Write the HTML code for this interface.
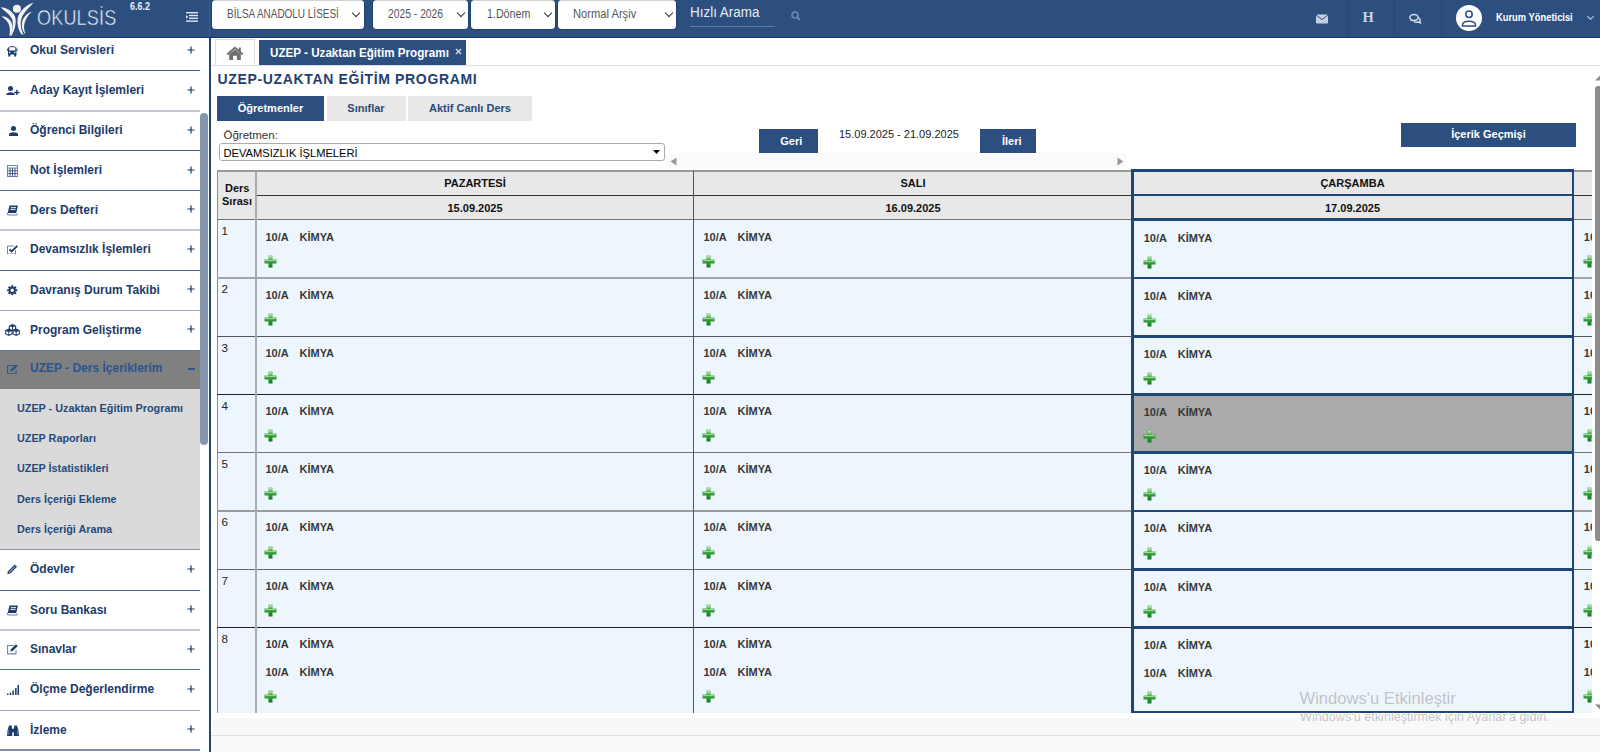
<!DOCTYPE html>
<html><head><meta charset="utf-8"><style>
*{box-sizing:border-box;margin:0;padding:0}
html,body{width:1600px;height:752px;overflow:hidden;background:#fff;font-family:"Liberation Sans",sans-serif}
.a{position:absolute}
.t{position:absolute;white-space:nowrap;line-height:1}
#hdr{position:absolute;left:0;top:0;width:1600px;height:38px;background:#2c4f80;border-bottom:1px solid #173a6c}
.sel{position:absolute;top:0;height:28.6px;background:#fff;border-radius:3.5px;color:#555;font-size:12px;border-top:1px solid #d4d4d4;box-shadow:0 0 0 0.8px #1b4074}
.sel .t{top:7.3px;transform:scaleX(0.84);transform-origin:0 0}
.chev{position:absolute;top:9px;width:6px;height:6px;border-right:1.6px solid #333;border-bottom:1.6px solid #333;transform:rotate(45deg)}
.vsep{position:absolute;top:0;width:1px;height:37px;background:#27466f}
.it{position:absolute;left:0;width:200px;height:40px}
.lb{position:absolute;left:30px;font-size:12px;font-weight:bold;color:#1d3b6b;white-space:nowrap;line-height:1}
.pl{position:absolute;left:187px;width:8px;height:8px}
.ic{position:absolute;left:5px;width:15px;height:14px}
.sepl{position:absolute;left:0;width:200px;height:1px}
.sub{position:absolute;left:17px;font-size:10.8px;font-weight:bold;color:#244a7c;white-space:nowrap;line-height:1}
.btn{position:absolute;background:#2c4f80;color:#fff;font-weight:bold;font-size:11px;text-align:center;line-height:1}
.tab2{position:absolute;top:96px;height:24.5px;background:#e8e8e8;color:#2b4a78;font-weight:bold;font-size:11px;text-align:center;line-height:24px}
.hcell{position:absolute;background:#e8e8e8;font-weight:bold;font-size:11px;color:#111;text-align:center;line-height:1}
.cell{position:absolute;background:#eef6fd}
.c1{position:absolute;font-size:11px;font-weight:bold;color:#383838;white-space:nowrap;line-height:1}
.num{position:absolute;font-size:11.6px;color:#222;line-height:1}
.plus{position:absolute;width:13px;height:13px}
.hl{position:absolute;background:#1f4679}
.hb{position:absolute}
</style></head><body>
<div id="hdr">
  <svg class="a" style="left:0;top:0" width="36" height="37" viewBox="0 0 36 37">
    <circle cx="16.9" cy="8.8" r="4" fill="#f4f4f6"/>
    <path d="M0.5 7.2 C5 7.3 12 10 14.8 16 C16.5 20 16 28 11.5 35.8 L10.3 35.8 C13 29 13.5 22 11.8 18.5 C9.5 14 5 11.5 0.5 7.2Z" fill="#f4f4f6"/>
    <path d="M1.5 16.2 C6 16 10.5 19 12 24 C13 28 12 32 10.2 35.8 L9.4 35.8 C10.3 31 10 27 8.5 23.5 C7 20.5 4.5 18.5 1.5 16.2Z" fill="#f4f4f6"/>
    <path d="M33.6 2.4 C27 4.5 20 10 18 17 C16.8 22 17.5 29 21.8 34.6 L23.5 34.6 C20.8 29.5 20 23 21.5 18.5 C23.5 12 29 8 33.6 2.4Z" fill="#f4f4f6"/>
    <path d="M31.8 11.8 C27 13 23 17.5 22 22.5 C21.3 26.5 22.5 31 24.6 33.6 L25.4 33.6 C23.8 29.5 23.6 25.5 25 21.5 C26.5 17.5 29 14.5 31.8 11.8Z" fill="#f4f4f6"/>
  </svg>
  <div class="t" style="left:37px;top:7px;font-size:22px;color:#eef0f4;transform:scaleX(0.82);transform-origin:0 0;letter-spacing:0.2px;-webkit-text-stroke:0.5px #2c4f80">OKULSİS</div>
  <div class="t" style="left:129.5px;top:1.5px;font-size:10px;font-weight:bold;color:#e8eef6;transform:scaleX(0.9);transform-origin:0 0">6.6.2</div>
  <svg class="a" style="left:186px;top:12px" width="12" height="10" viewBox="0 0 12 10">
    <rect x="0" y="0" width="12" height="1.4" fill="#dfe6f0"/><rect x="3" y="2.8" width="9" height="1.4" fill="#dfe6f0"/>
    <rect x="3" y="5.6" width="9" height="1.4" fill="#dfe6f0"/><rect x="0" y="8.4" width="12" height="1.4" fill="#dfe6f0"/>
    <path d="M0 3 L2.3 4.9 L0 6.8Z" fill="#dfe6f0"/>
  </svg>
  <div class="vsep" style="left:209px;background:#3d5f8c"></div>
  <div class="sel" style="left:212px;width:152px"><div class="t" style="left:14.8px;transform:scaleX(0.83)">BİLSA ANADOLU LİSESİ</div><div class="chev" style="left:141px"></div></div>
  <div class="sel" style="left:373px;width:95px"><div class="t" style="left:15px;transform:scaleX(0.86)">2025 - 2026</div><div class="chev" style="left:85px"></div></div>
  <div class="sel" style="left:471px;width:84px"><div class="t" style="left:15.5px;transform:scaleX(0.89)">1.Dönem</div><div class="chev" style="left:74px"></div></div>
  <div class="sel" style="left:558px;width:118px"><div class="t" style="left:15px;transform:scaleX(0.93)">Normal Arşiv</div><div class="chev" style="left:108px"></div></div>
  <div class="t" style="left:690px;top:5px;font-size:14px;color:#e6ebf2;transform:scaleX(0.96);transform-origin:0 0">Hızlı Arama</div>
  <div class="a" style="left:690px;top:26px;width:85px;height:1px;background:#5b7aa5"></div>
  <svg class="a" style="left:791px;top:11px" width="10" height="10" viewBox="0 0 10 10"><circle cx="4" cy="4" r="3" stroke="#6d89b0" stroke-width="1.6" fill="none"/><path d="M6.2 6.2 L9 9" stroke="#6d89b0" stroke-width="2"/></svg>
  <div class="vsep" style="left:1347px"></div>
  <div class="vsep" style="left:1394px"></div>
  <div class="vsep" style="left:1441px"></div>
  <svg class="a" style="left:1315.5px;top:14px" width="12" height="10" viewBox="0 0 12 10"><rect x="0" y="0.5" width="12" height="9" rx="1" fill="#c3cfdf"/><path d="M0 1 L6 5.5 L12 1" stroke="#2c4f80" stroke-width="1" fill="none"/></svg>
  <div class="t" style="left:1362.5px;top:9.5px;font-family:'Liberation Serif',serif;font-weight:bold;font-size:14.5px;color:#c8d3e2">H</div>
  <svg class="a" style="left:1408px;top:13px" width="14" height="11" viewBox="0 0 14 11"><ellipse cx="6" cy="4.4" rx="4.1" ry="3" fill="none" stroke="#d3dcea" stroke-width="1.5"/><path d="M2.9 6.6 L2.3 8.6 L4.8 7.4" fill="#d3dcea"/><path d="M9.8 4.6 C12 5.2 12.8 6.8 11.8 8.2 L12.4 9.8 L10.2 9 C8.6 9.5 6.8 9.1 5.8 8.2" fill="none" stroke="#d3dcea" stroke-width="1.4"/></svg>
  <svg class="a" style="left:1456px;top:5px" width="26" height="26" viewBox="0 0 26 26"><circle cx="13" cy="13" r="13" fill="#fff"/><circle cx="13" cy="9.3" r="3.2" fill="none" stroke="#2c4f80" stroke-width="1.5"/><path d="M6.5 20 C6.5 15 19.5 15 19.5 20 L19.5 21 L6.5 21Z" fill="none" stroke="#2c4f80" stroke-width="1.5"/></svg>
  <div class="t" style="left:1496px;top:12px;font-size:11px;font-weight:bold;color:#fff;transform:scaleX(0.85);transform-origin:0 0;letter-spacing:0px">Kurum Yöneticisi</div>
  <div class="chev" style="left:1588px;top:14px;width:5px;height:5px;border-color:#c3cfdf;border-width:1.3px"></div>
</div>
<div class="a" style="left:0;top:38px;width:209px;height:714px;background:#fff"></div>
<div class="a" style="left:7px;top:45.0px;width:10.5px;height:11.5px;line-height:0"><svg width="10.5" height="11.5" viewBox="0 0 10.5 11.5"><path d="M1 3 C1 0.5 9.5 0.5 9.5 3 V9.5 H1Z" fill="#1d3b6b"/><rect x="2.2" y="2.2" width="6.1" height="3.3" fill="#fff"/><rect x="2" y="6.8" width="1.4" height="1.2" fill="#fff"/><rect x="7.1" y="6.8" width="1.4" height="1.2" fill="#fff"/><rect x="1.3" y="9" width="2" height="2.5" fill="#1d3b6b"/><rect x="7.2" y="9" width="2" height="2.5" fill="#1d3b6b"/><rect x="0" y="3.5" width="0.8" height="2.5" fill="#1d3b6b"/><rect x="9.7" y="3.5" width="0.8" height="2.5" fill="#1d3b6b"/></svg></div>
<div class="lb" style="top:44.0px">Okul Servisleri</div>
<svg class="pl" style="top:45.5px" viewBox="0 0 8 8"><path d="M4 0.5V7.5M0.5 4H7.5" stroke="#13306a" stroke-width="1.15"/></svg>
<div class="a" style="left:6px;top:85.5px;width:13.5px;height:9.5px;line-height:0"><svg width="13.5" height="9.5" viewBox="0 0 13.5 9.5"><circle cx="4.5" cy="2.6" r="2.5" fill="#1d3b6b"/><path d="M0 9.5 C0 5 9 5 9 9.5Z" fill="#1d3b6b"/><rect x="8.2" y="5.8" width="5.3" height="1.4" fill="#1d3b6b"/><rect x="10.15" y="3.8" width="1.4" height="5.4" fill="#1d3b6b"/></svg></div>
<div class="lb" style="top:84.0px">Aday Kayıt İşlemleri</div>
<svg class="pl" style="top:85.5px" viewBox="0 0 8 8"><path d="M4 0.5V7.5M0.5 4H7.5" stroke="#13306a" stroke-width="1.15"/></svg>
<div class="a" style="left:8.5px;top:125.8px;width:9px;height:10px;line-height:0"><svg width="9" height="10" viewBox="0 0 9 10"><circle cx="4.5" cy="2.6" r="2.5" fill="#1d3b6b"/><path d="M0 10 V8.3 C0 5.5 9 5.5 9 8.3 V10Z" fill="#1d3b6b"/></svg></div>
<div class="lb" style="top:124.3px">Öğrenci Bilgileri</div>
<svg class="pl" style="top:125.8px" viewBox="0 0 8 8"><path d="M4 0.5V7.5M0.5 4H7.5" stroke="#13306a" stroke-width="1.15"/></svg>
<div class="a" style="left:7px;top:164.5px;width:11px;height:12px;line-height:0"><svg width="11" height="12" viewBox="0 0 11 12"><rect x="0.5" y="0.5" width="10" height="11" fill="none" stroke="#6f86a8" stroke-width="1"/><rect x="0.5" y="0.5" width="10" height="2.5" fill="none" stroke="#6f86a8" stroke-width="1"/><path d="M0.5 5.8 H10.5 M0.5 8.6 H10.5 M3 3 V11.5 M5.5 3 V11.5 M8 3 V11.5" stroke="#1d3b6b" stroke-width="0.8"/></svg></div>
<div class="lb" style="top:164.0px">Not İşlemleri</div>
<svg class="pl" style="top:165.5px" viewBox="0 0 8 8"><path d="M4 0.5V7.5M0.5 4H7.5" stroke="#13306a" stroke-width="1.15"/></svg>
<div class="a" style="left:7px;top:205.4px;width:11.5px;height:10.5px;line-height:0"><svg width="11.5" height="10.5" viewBox="0 0 11.5 10.5"><path d="M2.5 0.5 H11 L9.2 8 H0.7Z" fill="#1d3b6b"/><path d="M0.7 8 C0.2 9.5 0.7 10 1.5 10 H9.5 L10.5 8.5" fill="none" stroke="#6f86a8" stroke-width="1.1"/><path d="M3.8 2.6 H9 M3.4 4.4 H8.6" stroke="#fff" stroke-width="0.9"/></svg></div>
<div class="lb" style="top:203.9px">Ders Defteri</div>
<svg class="pl" style="top:205.4px" viewBox="0 0 8 8"><path d="M4 0.5V7.5M0.5 4H7.5" stroke="#13306a" stroke-width="1.15"/></svg>
<div class="a" style="left:7px;top:244.8px;width:11px;height:9.5px;line-height:0"><svg width="11" height="9.5" viewBox="0 0 11 9.5"><path d="M8.5 5 V9 H0.5 V1 H7" fill="none" stroke="#6f86a8" stroke-width="1"/><path d="M2.5 4.3 L4.6 6.4 L10.3 0.8" fill="none" stroke="#1d3b6b" stroke-width="1.8"/></svg></div>
<div class="lb" style="top:243.3px">Devamsızlık İşlemleri</div>
<svg class="pl" style="top:244.8px" viewBox="0 0 8 8"><path d="M4 0.5V7.5M0.5 4H7.5" stroke="#13306a" stroke-width="1.15"/></svg>
<div class="a" style="left:7.3px;top:284.7px;width:10.5px;height:10.5px;line-height:0"><svg width="10.5" height="10.5" viewBox="0 0 14 14"><g fill="#1d3b6b"><circle cx="7" cy="7" r="4.6"/><rect x="5.6" y="0.3" width="2.8" height="13.4"/><rect x="0.3" y="5.6" width="13.4" height="2.8"/><rect x="5.6" y="0.3" width="2.8" height="13.4" transform="rotate(45 7 7)"/><rect x="5.6" y="0.3" width="2.8" height="13.4" transform="rotate(-45 7 7)"/></g><circle cx="7" cy="7" r="2.2" fill="#fff"/></svg></div>
<div class="lb" style="top:283.7px">Davranış Durum Takibi</div>
<svg class="pl" style="top:285.2px" viewBox="0 0 8 8"><path d="M4 0.5V7.5M0.5 4H7.5" stroke="#13306a" stroke-width="1.15"/></svg>
<div class="a" style="left:5px;top:324.4px;width:15px;height:12px;line-height:0"><svg width="15" height="12" viewBox="0 0 16 13"><path d="M8 0 L12 1.8 L12 6.2 L8 8 L4 6.2 L4 1.8Z" fill="#1d3b6b"/><path d="M5.2 2.5 L7.5 3.6 V6.5 L5.2 5.5Z M8.5 3.6 L10.8 2.5 V5.5 L8.5 6.5Z" fill="#fff"/><path d="M4 5 L8 6.8 L8 11.2 L4 13 L0 11.2 L0 6.8Z" fill="#1d3b6b"/><path d="M1.2 7.5 L3.5 8.6 V11.5 L1.2 10.5Z M4.5 8.6 L6.8 7.5 V10.5 L4.5 11.5Z" fill="#fff"/><path d="M12 5 L16 6.8 L16 11.2 L12 13 L8 11.2 L8 6.8Z" fill="#1d3b6b"/><path d="M9.2 7.5 L11.5 8.6 V11.5 L9.2 10.5Z M12.5 8.6 L14.8 7.5 V10.5 L12.5 11.5Z" fill="#fff"/></svg></div>
<div class="lb" style="top:323.9px">Program Geliştirme</div>
<svg class="pl" style="top:325.4px" viewBox="0 0 8 8"><path d="M4 0.5V7.5M0.5 4H7.5" stroke="#13306a" stroke-width="1.15"/></svg>
<div class="sepl" style="top:69.9px;height:1.2px;background:#3f5f8a"></div>
<div class="sepl" style="top:110.2px;height:2px;background:#c3c8d0"></div>
<div class="sepl" style="top:149.9px;height:1.2px;background:#41618b"></div>
<div class="sepl" style="top:189.8px;height:1.2px;background:#4f6c93"></div>
<div class="sepl" style="top:229.2px;height:2px;background:#c3c8d0"></div>
<div class="sepl" style="top:269.6px;height:1.2px;background:#4a6890"></div>
<div class="sepl" style="top:309.8px;height:1.2px;background:#9eabbd"></div>
<div class="a" style="left:0;top:349.8px;width:200px;height:39px;background:#808080;border-top:1px solid #6b7b8e"></div>
<div class="a" style="left:7px;top:363.5px;width:11.5px;height:10.5px;line-height:0"><svg width="11.5" height="10.5" viewBox="0 0 11.5 10.5"><path d="M7 1.5 H0.6 V9.9 H9 V6" fill="none" stroke="#2a5490" stroke-width="1.1"/><path d="M3.5 7.5 L3.9 5.3 L9 0.2 L10.8 2 L5.7 7.1Z" fill="#2a5490"/></svg></div>
<div class="lb" style="top:362px;color:#2a5490">UZEP - Ders İçeriklerim</div>
<div class="a" style="left:188px;top:368px;width:7px;height:1.6px;background:#2a5490"></div>
<div class="a" style="left:0;top:388.6px;width:200px;height:161.5px;background:#dadada;border-bottom:1.5px solid #8a96aa"></div>
<div class="sub" style="top:402.7px">UZEP - Uzaktan Eğitim Programı</div>
<div class="sub" style="top:433.0px">UZEP Raporları</div>
<div class="sub" style="top:463.3px">UZEP İstatistikleri</div>
<div class="sub" style="top:493.5px">Ders İçeriği Ekleme</div>
<div class="sub" style="top:523.8px">Ders İçeriği Arama</div>
<div class="a" style="left:7.3px;top:564.0px;width:10.5px;height:10.5px;line-height:0"><svg width="10.5" height="10.5" viewBox="0 0 10.5 10.5"><path d="M0.3 10.2 L1 7.3 L7.8 0.5 L10 2.7 L3.2 9.5Z" fill="#1d3b6b"/><path d="M1.5 8.3 L7.8 2 L8.5 2.7 L2.2 9Z" fill="#8aa0c0"/></svg></div>
<div class="lb" style="top:563.0px">Ödevler</div>
<svg class="pl" style="top:564.5px" viewBox="0 0 8 8"><path d="M4 0.5V7.5M0.5 4H7.5" stroke="#13306a" stroke-width="1.15"/></svg>
<div class="a" style="left:7px;top:605.3px;width:11.5px;height:10.5px;line-height:0"><svg width="11.5" height="10.5" viewBox="0 0 11.5 10.5"><path d="M2.5 0.5 H11 L9.2 8 H0.7Z" fill="#1d3b6b"/><path d="M0.7 8 C0.2 9.5 0.7 10 1.5 10 H9.5 L10.5 8.5" fill="none" stroke="#6f86a8" stroke-width="1.1"/><path d="M3.8 2.6 H9 M3.4 4.4 H8.6" stroke="#fff" stroke-width="0.9"/></svg></div>
<div class="lb" style="top:603.8px">Soru Bankası</div>
<svg class="pl" style="top:605.3px" viewBox="0 0 8 8"><path d="M4 0.5V7.5M0.5 4H7.5" stroke="#13306a" stroke-width="1.15"/></svg>
<div class="a" style="left:7px;top:644.3px;width:11.5px;height:10.5px;line-height:0"><svg width="11.5" height="10.5" viewBox="0 0 11.5 10.5"><path d="M7 1.5 H0.6 V9.9 H9 V6" fill="none" stroke="#6f86a8" stroke-width="1.1"/><path d="M3.5 7.5 L3.9 5.3 L9 0.2 L10.8 2 L5.7 7.1Z" fill="#1d3b6b"/></svg></div>
<div class="lb" style="top:643.3px">Sınavlar</div>
<svg class="pl" style="top:644.8px" viewBox="0 0 8 8"><path d="M4 0.5V7.5M0.5 4H7.5" stroke="#13306a" stroke-width="1.15"/></svg>
<div class="a" style="left:6.6px;top:684.5px;width:12px;height:10px;line-height:0"><svg width="12" height="10" viewBox="0 0 12 10"><g fill="#1d3b6b"><rect x="0" y="8.5" width="1.5" height="1.5"/><rect x="2.7" y="7.5" width="1.5" height="2.5"/><rect x="5.4" y="5.5" width="1.5" height="4.5"/><rect x="8.1" y="3" width="1.5" height="7"/><rect x="10.5" y="0" width="1.5" height="10"/></g></svg></div>
<div class="lb" style="top:683.0px">Ölçme Değerlendirme</div>
<svg class="pl" style="top:684.5px" viewBox="0 0 8 8"><path d="M4 0.5V7.5M0.5 4H7.5" stroke="#13306a" stroke-width="1.15"/></svg>
<div class="a" style="left:6.6px;top:724.9px;width:12px;height:11.5px;line-height:0"><svg width="12" height="11.5" viewBox="0 0 12 11.5"><g fill="#1d3b6b"><path d="M0 11.5 L0.6 5 L2 0.5 H4.5 L5.2 4 V11.5Z"/><path d="M12 11.5 L11.4 5 L10 0.5 H7.5 L6.8 4 V11.5Z"/><rect x="4.8" y="3.8" width="2.4" height="3.5"/></g><path d="M1.5 5 V10 M10.5 5 V10" stroke="#5a78a8" stroke-width="0.9"/></svg></div>
<div class="lb" style="top:723.9px">İzleme</div>
<svg class="pl" style="top:725.4px" viewBox="0 0 8 8"><path d="M4 0.5V7.5M0.5 4H7.5" stroke="#13306a" stroke-width="1.15"/></svg>
<div class="sepl" style="top:589.7px;height:1.2px;background:#4a6890"></div>
<div class="sepl" style="top:629.2px;height:2px;background:#c3c8d0"></div>
<div class="sepl" style="top:668.9px;height:1.2px;background:#4f6c93"></div>
<div class="sepl" style="top:709.8px;height:1.2px;background:#9eabbd"></div>
<div class="sepl" style="top:749.4px;height:1.2px;background:#8090a8"></div>
<div class="a" style="left:200px;top:113px;width:8.3px;height:332px;background:#8496ad;border-radius:4px"></div>
<div class="a" style="left:208.5px;top:38px;width:2.5px;height:714px;background:#1f4679"></div>
<div class="a" style="left:215px;top:39.2px;width:39.5px;height:26px;border:1px solid #ddd;border-bottom:none;background:#fff"></div>
<svg class="a" style="left:225.8px;top:45.6px" width="18" height="14.5" viewBox="0 0 17 14" preserveAspectRatio="none"><path d="M8.5 0.5 L0.5 7.5 L2 8.6 L8.5 3 L15 8.6 L16.5 7.5Z" fill="#6e6e6e"/><path d="M3 8 L8.5 3.3 L14 8 V13.5 H10.3 V9.5 H6.7 V13.5 H3Z" fill="#6e6e6e"/><rect x="12" y="1.5" width="2" height="4" fill="#6e6e6e"/></svg>
<div class="a" style="left:259px;top:40px;width:207px;height:24.5px;background:#2c4f80"></div>
<div class="t" style="left:270px;top:46px;font-size:13px;font-weight:bold;color:#fff;transform:scaleX(0.895);transform-origin:0 0">UZEP - Uzaktan Eğitim Programı</div>
<svg class="a" style="left:455px;top:48px" width="7" height="7" viewBox="0 0 7 7"><path d="M1 1L6 6M6 1L1 6" stroke="#c8d2e0" stroke-width="1.6"/></svg>
<div class="a" style="left:211px;top:65px;width:1389px;height:1px;background:#ddd"></div>
<div class="t" style="left:217.5px;top:72px;font-size:14px;font-weight:bold;color:#1f3f73;letter-spacing:0.65px">UZEP-UZAKTAN EĞİTİM PROGRAMI</div>
<div class="tab2" style="left:217px;width:107px;background:#2c4f80;color:#fff">Öğretmenler</div>
<div class="tab2" style="left:326.5px;width:79px">Sınıflar</div>
<div class="tab2" style="left:408px;width:124px">Aktif Canlı Ders</div>
<div class="t" style="left:223.5px;top:129.5px;font-size:11.5px;color:#333">Öğretmen:</div>
<div class="a" style="left:219px;top:143.2px;width:445.5px;height:18.3px;border:1px solid #aaa;border-radius:3px;background:#fff"></div>
<div class="t" style="left:223.5px;top:147.6px;font-size:11.15px;color:#000">DEVAMSIZLIK İŞLMELERİ</div>
<svg class="a" style="left:653px;top:150px" width="7" height="4" viewBox="0 0 7 4"><path d="M0 0H7L3.5 4Z" fill="#000"/></svg>
<div class="a" style="left:665px;top:153px;width:462px;height:15px;background:#fbfbfb"></div>
<svg class="a" style="left:670px;top:156.5px" width="7" height="9" viewBox="0 0 7 9"><path d="M6.5 0.5V8.5L0.5 4.5Z" fill="#999"/></svg>
<svg class="a" style="left:1117px;top:156.5px" width="7" height="9" viewBox="0 0 7 9"><path d="M0.5 0.5V8.5L6.5 4.5Z" fill="#999"/></svg>
<div class="btn" style="left:759px;top:128.5px;width:59px;height:24.5px;padding-top:7px;padding-left:5.5px">Geri</div>
<div class="t" style="left:839px;top:129px;font-size:11px;color:#222">15.09.2025 - 21.09.2025</div>
<div class="btn" style="left:980px;top:128.5px;width:56px;height:24.5px;padding-top:7px;padding-left:7.5px">İleri</div>
<div class="btn" style="left:1401px;top:122.5px;width:175px;height:24.5px;padding-top:6.5px">İçerik Geçmişi</div>
<div class="hcell" style="left:217px;top:171px;width:375px;height:49px;width:1375px"></div>
<div class="cell" style="left:217px;top:220px;width:1375px;height:492.6px"></div>
<div class="a" style="left:216.5px;top:170.3px;width:1375.5px;height:1.3px;background:#9a9a9a"></div>
<div class="a" style="left:216.5px;top:170.5px;width:1.2px;height:542.1px;background:#8c8c8c"></div>
<div class="a" style="left:256px;top:194.6px;width:1336px;height:1.3px;background:#333"></div>
<div class="a" style="left:217px;top:218.8px;width:1375px;height:1.3px;background:#707070"></div>
<div class="a" style="left:217px;top:277.2px;width:1375px;height:1.6px;background:#a2a6aa"></div>
<div class="a" style="left:217px;top:335.6px;width:1375px;height:1.6px;background:#555"></div>
<div class="a" style="left:217px;top:393.6px;width:1375px;height:1.6px;background:#222"></div>
<div class="a" style="left:217px;top:451.7px;width:1375px;height:1.6px;background:#777"></div>
<div class="a" style="left:217px;top:510.1px;width:1375px;height:1.6px;background:#9c9c9c"></div>
<div class="a" style="left:217px;top:568.6px;width:1375px;height:1.6px;background:#666"></div>
<div class="a" style="left:217px;top:626.6px;width:1375px;height:1.6px;background:#222"></div>
<div class="a" style="left:255px;top:171px;width:1.8px;height:541.6px;background:#a9adb3"></div>
<div class="a" style="left:693.2px;top:171px;width:1.1px;height:541.6px;background:#555"></div>
<div class="t" style="left:225px;top:183px;font-size:11px;font-weight:bold;color:#111">Ders</div>
<div class="t" style="left:222px;top:196px;font-size:11px;font-weight:bold;color:#111">Sırası</div>
<div class="hb" style="left:256px;top:178px;width:438px;text-align:center;font-size:11px;font-weight:bold;color:#111;line-height:1">PAZARTESİ</div>
<div class="hb" style="left:256px;top:202.5px;width:438px;text-align:center;font-size:11px;font-weight:bold;color:#111;line-height:1">15.09.2025</div>
<div class="hb" style="left:694px;top:178px;width:438px;text-align:center;font-size:11px;font-weight:bold;color:#111;line-height:1">SALI</div>
<div class="hb" style="left:694px;top:202.5px;width:438px;text-align:center;font-size:11px;font-weight:bold;color:#111;line-height:1">16.09.2025</div>
<div class="hb" style="left:1132px;top:178px;width:441px;text-align:center;font-size:11px;font-weight:bold;color:#111;line-height:1">ÇARŞAMBA</div>
<div class="hb" style="left:1132px;top:202.5px;width:441px;text-align:center;font-size:11px;font-weight:bold;color:#111;line-height:1">17.09.2025</div>
<svg width="0" height="0" style="position:absolute"><defs><linearGradient id="pg" x1="0" y1="0" x2="0" y2="1"><stop offset="0" stop-color="#6cc06a"/><stop offset="0.45" stop-color="#3aa33c"/><stop offset="1" stop-color="#0c7a1c"/></linearGradient><linearGradient id="ph" x1="0" y1="0" x2="0" y2="1"><stop offset="0" stop-color="#e2f6d8"/><stop offset="1" stop-color="#8fd08a" stop-opacity="0"/></linearGradient></defs></svg>
<div class="a" style="left:1133px;top:394.4px;width:440px;height:58.1px;background:#aaaaaa"></div>
<div class="num" style="left:221.6px;top:225.2px">1</div>
<div class="c1" style="left:265.5px;top:231.5px">10/A</div>
<div class="c1" style="left:299.5px;top:231.5px">KİMYA</div>
<svg class="plus" style="left:264.3px;top:254.8px" viewBox="0 0 13 13"><path d="M4.5 0.5H8.5V4.5H12.5V8.5H8.5V12.5H4.5V8.5H0.5V4.5H4.5Z" fill="url(#pg)"/><path d="M5.3 1.2H7.7V5H5.3Z" fill="url(#ph)"/><path d="M1.2 5.3H11.8V6.1H1.2Z" fill="#d8f2d0" opacity="0.9"/></svg>
<div class="c1" style="left:703.5px;top:231.5px">10/A</div>
<div class="c1" style="left:737.5px;top:231.5px">KİMYA</div>
<svg class="plus" style="left:702.3px;top:254.8px" viewBox="0 0 13 13"><path d="M4.5 0.5H8.5V4.5H12.5V8.5H8.5V12.5H4.5V8.5H0.5V4.5H4.5Z" fill="url(#pg)"/><path d="M5.3 1.2H7.7V5H5.3Z" fill="url(#ph)"/><path d="M1.2 5.3H11.8V6.1H1.2Z" fill="#d8f2d0" opacity="0.9"/></svg>
<div class="c1" style="left:1143.7px;top:232.5px">10/A</div>
<div class="c1" style="left:1177.7px;top:232.5px">KİMYA</div>
<svg class="plus" style="left:1142.5px;top:255.8px" viewBox="0 0 13 13"><path d="M4.5 0.5H8.5V4.5H12.5V8.5H8.5V12.5H4.5V8.5H0.5V4.5H4.5Z" fill="url(#pg)"/><path d="M5.3 1.2H7.7V5H5.3Z" fill="url(#ph)"/><path d="M1.2 5.3H11.8V6.1H1.2Z" fill="#d8f2d0" opacity="0.9"/></svg>
<div class="c1" style="left:1583.8px;top:231.5px">10/A</div>
<div class="c1" style="left:1617.8px;top:231.5px">KİMYA</div>
<svg class="plus" style="left:1582.6px;top:254.8px" viewBox="0 0 13 13"><path d="M4.5 0.5H8.5V4.5H12.5V8.5H8.5V12.5H4.5V8.5H0.5V4.5H4.5Z" fill="url(#pg)"/><path d="M5.3 1.2H7.7V5H5.3Z" fill="url(#ph)"/><path d="M1.2 5.3H11.8V6.1H1.2Z" fill="#d8f2d0" opacity="0.9"/></svg>
<div class="num" style="left:221.6px;top:283.2px">2</div>
<div class="c1" style="left:265.5px;top:289.5px">10/A</div>
<div class="c1" style="left:299.5px;top:289.5px">KİMYA</div>
<svg class="plus" style="left:264.3px;top:312.8px" viewBox="0 0 13 13"><path d="M4.5 0.5H8.5V4.5H12.5V8.5H8.5V12.5H4.5V8.5H0.5V4.5H4.5Z" fill="url(#pg)"/><path d="M5.3 1.2H7.7V5H5.3Z" fill="url(#ph)"/><path d="M1.2 5.3H11.8V6.1H1.2Z" fill="#d8f2d0" opacity="0.9"/></svg>
<div class="c1" style="left:703.5px;top:289.5px">10/A</div>
<div class="c1" style="left:737.5px;top:289.5px">KİMYA</div>
<svg class="plus" style="left:702.3px;top:312.8px" viewBox="0 0 13 13"><path d="M4.5 0.5H8.5V4.5H12.5V8.5H8.5V12.5H4.5V8.5H0.5V4.5H4.5Z" fill="url(#pg)"/><path d="M5.3 1.2H7.7V5H5.3Z" fill="url(#ph)"/><path d="M1.2 5.3H11.8V6.1H1.2Z" fill="#d8f2d0" opacity="0.9"/></svg>
<div class="c1" style="left:1143.7px;top:290.5px">10/A</div>
<div class="c1" style="left:1177.7px;top:290.5px">KİMYA</div>
<svg class="plus" style="left:1142.5px;top:313.8px" viewBox="0 0 13 13"><path d="M4.5 0.5H8.5V4.5H12.5V8.5H8.5V12.5H4.5V8.5H0.5V4.5H4.5Z" fill="url(#pg)"/><path d="M5.3 1.2H7.7V5H5.3Z" fill="url(#ph)"/><path d="M1.2 5.3H11.8V6.1H1.2Z" fill="#d8f2d0" opacity="0.9"/></svg>
<div class="c1" style="left:1583.8px;top:289.5px">10/A</div>
<div class="c1" style="left:1617.8px;top:289.5px">KİMYA</div>
<svg class="plus" style="left:1582.6px;top:312.8px" viewBox="0 0 13 13"><path d="M4.5 0.5H8.5V4.5H12.5V8.5H8.5V12.5H4.5V8.5H0.5V4.5H4.5Z" fill="url(#pg)"/><path d="M5.3 1.2H7.7V5H5.3Z" fill="url(#ph)"/><path d="M1.2 5.3H11.8V6.1H1.2Z" fill="#d8f2d0" opacity="0.9"/></svg>
<div class="num" style="left:221.6px;top:341.6px">3</div>
<div class="c1" style="left:265.5px;top:347.9px">10/A</div>
<div class="c1" style="left:299.5px;top:347.9px">KİMYA</div>
<svg class="plus" style="left:264.3px;top:371.2px" viewBox="0 0 13 13"><path d="M4.5 0.5H8.5V4.5H12.5V8.5H8.5V12.5H4.5V8.5H0.5V4.5H4.5Z" fill="url(#pg)"/><path d="M5.3 1.2H7.7V5H5.3Z" fill="url(#ph)"/><path d="M1.2 5.3H11.8V6.1H1.2Z" fill="#d8f2d0" opacity="0.9"/></svg>
<div class="c1" style="left:703.5px;top:347.9px">10/A</div>
<div class="c1" style="left:737.5px;top:347.9px">KİMYA</div>
<svg class="plus" style="left:702.3px;top:371.2px" viewBox="0 0 13 13"><path d="M4.5 0.5H8.5V4.5H12.5V8.5H8.5V12.5H4.5V8.5H0.5V4.5H4.5Z" fill="url(#pg)"/><path d="M5.3 1.2H7.7V5H5.3Z" fill="url(#ph)"/><path d="M1.2 5.3H11.8V6.1H1.2Z" fill="#d8f2d0" opacity="0.9"/></svg>
<div class="c1" style="left:1143.7px;top:348.9px">10/A</div>
<div class="c1" style="left:1177.7px;top:348.9px">KİMYA</div>
<svg class="plus" style="left:1142.5px;top:372.2px" viewBox="0 0 13 13"><path d="M4.5 0.5H8.5V4.5H12.5V8.5H8.5V12.5H4.5V8.5H0.5V4.5H4.5Z" fill="url(#pg)"/><path d="M5.3 1.2H7.7V5H5.3Z" fill="url(#ph)"/><path d="M1.2 5.3H11.8V6.1H1.2Z" fill="#d8f2d0" opacity="0.9"/></svg>
<div class="c1" style="left:1583.8px;top:347.9px">10/A</div>
<div class="c1" style="left:1617.8px;top:347.9px">KİMYA</div>
<svg class="plus" style="left:1582.6px;top:371.2px" viewBox="0 0 13 13"><path d="M4.5 0.5H8.5V4.5H12.5V8.5H8.5V12.5H4.5V8.5H0.5V4.5H4.5Z" fill="url(#pg)"/><path d="M5.3 1.2H7.7V5H5.3Z" fill="url(#ph)"/><path d="M1.2 5.3H11.8V6.1H1.2Z" fill="#d8f2d0" opacity="0.9"/></svg>
<div class="num" style="left:221.6px;top:399.6px">4</div>
<div class="c1" style="left:265.5px;top:405.9px">10/A</div>
<div class="c1" style="left:299.5px;top:405.9px">KİMYA</div>
<svg class="plus" style="left:264.3px;top:429.2px" viewBox="0 0 13 13"><path d="M4.5 0.5H8.5V4.5H12.5V8.5H8.5V12.5H4.5V8.5H0.5V4.5H4.5Z" fill="url(#pg)"/><path d="M5.3 1.2H7.7V5H5.3Z" fill="url(#ph)"/><path d="M1.2 5.3H11.8V6.1H1.2Z" fill="#d8f2d0" opacity="0.9"/></svg>
<div class="c1" style="left:703.5px;top:405.9px">10/A</div>
<div class="c1" style="left:737.5px;top:405.9px">KİMYA</div>
<svg class="plus" style="left:702.3px;top:429.2px" viewBox="0 0 13 13"><path d="M4.5 0.5H8.5V4.5H12.5V8.5H8.5V12.5H4.5V8.5H0.5V4.5H4.5Z" fill="url(#pg)"/><path d="M5.3 1.2H7.7V5H5.3Z" fill="url(#ph)"/><path d="M1.2 5.3H11.8V6.1H1.2Z" fill="#d8f2d0" opacity="0.9"/></svg>
<div class="c1" style="left:1143.7px;top:406.9px">10/A</div>
<div class="c1" style="left:1177.7px;top:406.9px">KİMYA</div>
<svg class="plus" style="left:1142.5px;top:430.2px" viewBox="0 0 13 13"><path d="M4.5 0.5H8.5V4.5H12.5V8.5H8.5V12.5H4.5V8.5H0.5V4.5H4.5Z" fill="url(#pg)"/><path d="M5.3 1.2H7.7V5H5.3Z" fill="url(#ph)"/><path d="M1.2 5.3H11.8V6.1H1.2Z" fill="#d8f2d0" opacity="0.9"/></svg>
<div class="c1" style="left:1583.8px;top:405.9px">10/A</div>
<div class="c1" style="left:1617.8px;top:405.9px">KİMYA</div>
<svg class="plus" style="left:1582.6px;top:429.2px" viewBox="0 0 13 13"><path d="M4.5 0.5H8.5V4.5H12.5V8.5H8.5V12.5H4.5V8.5H0.5V4.5H4.5Z" fill="url(#pg)"/><path d="M5.3 1.2H7.7V5H5.3Z" fill="url(#ph)"/><path d="M1.2 5.3H11.8V6.1H1.2Z" fill="#d8f2d0" opacity="0.9"/></svg>
<div class="num" style="left:221.6px;top:457.7px">5</div>
<div class="c1" style="left:265.5px;top:464.0px">10/A</div>
<div class="c1" style="left:299.5px;top:464.0px">KİMYA</div>
<svg class="plus" style="left:264.3px;top:487.3px" viewBox="0 0 13 13"><path d="M4.5 0.5H8.5V4.5H12.5V8.5H8.5V12.5H4.5V8.5H0.5V4.5H4.5Z" fill="url(#pg)"/><path d="M5.3 1.2H7.7V5H5.3Z" fill="url(#ph)"/><path d="M1.2 5.3H11.8V6.1H1.2Z" fill="#d8f2d0" opacity="0.9"/></svg>
<div class="c1" style="left:703.5px;top:464.0px">10/A</div>
<div class="c1" style="left:737.5px;top:464.0px">KİMYA</div>
<svg class="plus" style="left:702.3px;top:487.3px" viewBox="0 0 13 13"><path d="M4.5 0.5H8.5V4.5H12.5V8.5H8.5V12.5H4.5V8.5H0.5V4.5H4.5Z" fill="url(#pg)"/><path d="M5.3 1.2H7.7V5H5.3Z" fill="url(#ph)"/><path d="M1.2 5.3H11.8V6.1H1.2Z" fill="#d8f2d0" opacity="0.9"/></svg>
<div class="c1" style="left:1143.7px;top:465.0px">10/A</div>
<div class="c1" style="left:1177.7px;top:465.0px">KİMYA</div>
<svg class="plus" style="left:1142.5px;top:488.3px" viewBox="0 0 13 13"><path d="M4.5 0.5H8.5V4.5H12.5V8.5H8.5V12.5H4.5V8.5H0.5V4.5H4.5Z" fill="url(#pg)"/><path d="M5.3 1.2H7.7V5H5.3Z" fill="url(#ph)"/><path d="M1.2 5.3H11.8V6.1H1.2Z" fill="#d8f2d0" opacity="0.9"/></svg>
<div class="c1" style="left:1583.8px;top:464.0px">10/A</div>
<div class="c1" style="left:1617.8px;top:464.0px">KİMYA</div>
<svg class="plus" style="left:1582.6px;top:487.3px" viewBox="0 0 13 13"><path d="M4.5 0.5H8.5V4.5H12.5V8.5H8.5V12.5H4.5V8.5H0.5V4.5H4.5Z" fill="url(#pg)"/><path d="M5.3 1.2H7.7V5H5.3Z" fill="url(#ph)"/><path d="M1.2 5.3H11.8V6.1H1.2Z" fill="#d8f2d0" opacity="0.9"/></svg>
<div class="num" style="left:221.6px;top:516.1px">6</div>
<div class="c1" style="left:265.5px;top:522.4px">10/A</div>
<div class="c1" style="left:299.5px;top:522.4px">KİMYA</div>
<svg class="plus" style="left:264.3px;top:545.7px" viewBox="0 0 13 13"><path d="M4.5 0.5H8.5V4.5H12.5V8.5H8.5V12.5H4.5V8.5H0.5V4.5H4.5Z" fill="url(#pg)"/><path d="M5.3 1.2H7.7V5H5.3Z" fill="url(#ph)"/><path d="M1.2 5.3H11.8V6.1H1.2Z" fill="#d8f2d0" opacity="0.9"/></svg>
<div class="c1" style="left:703.5px;top:522.4px">10/A</div>
<div class="c1" style="left:737.5px;top:522.4px">KİMYA</div>
<svg class="plus" style="left:702.3px;top:545.7px" viewBox="0 0 13 13"><path d="M4.5 0.5H8.5V4.5H12.5V8.5H8.5V12.5H4.5V8.5H0.5V4.5H4.5Z" fill="url(#pg)"/><path d="M5.3 1.2H7.7V5H5.3Z" fill="url(#ph)"/><path d="M1.2 5.3H11.8V6.1H1.2Z" fill="#d8f2d0" opacity="0.9"/></svg>
<div class="c1" style="left:1143.7px;top:523.4px">10/A</div>
<div class="c1" style="left:1177.7px;top:523.4px">KİMYA</div>
<svg class="plus" style="left:1142.5px;top:546.7px" viewBox="0 0 13 13"><path d="M4.5 0.5H8.5V4.5H12.5V8.5H8.5V12.5H4.5V8.5H0.5V4.5H4.5Z" fill="url(#pg)"/><path d="M5.3 1.2H7.7V5H5.3Z" fill="url(#ph)"/><path d="M1.2 5.3H11.8V6.1H1.2Z" fill="#d8f2d0" opacity="0.9"/></svg>
<div class="c1" style="left:1583.8px;top:522.4px">10/A</div>
<div class="c1" style="left:1617.8px;top:522.4px">KİMYA</div>
<svg class="plus" style="left:1582.6px;top:545.7px" viewBox="0 0 13 13"><path d="M4.5 0.5H8.5V4.5H12.5V8.5H8.5V12.5H4.5V8.5H0.5V4.5H4.5Z" fill="url(#pg)"/><path d="M5.3 1.2H7.7V5H5.3Z" fill="url(#ph)"/><path d="M1.2 5.3H11.8V6.1H1.2Z" fill="#d8f2d0" opacity="0.9"/></svg>
<div class="num" style="left:221.6px;top:574.6px">7</div>
<div class="c1" style="left:265.5px;top:580.9px">10/A</div>
<div class="c1" style="left:299.5px;top:580.9px">KİMYA</div>
<svg class="plus" style="left:264.3px;top:604.2px" viewBox="0 0 13 13"><path d="M4.5 0.5H8.5V4.5H12.5V8.5H8.5V12.5H4.5V8.5H0.5V4.5H4.5Z" fill="url(#pg)"/><path d="M5.3 1.2H7.7V5H5.3Z" fill="url(#ph)"/><path d="M1.2 5.3H11.8V6.1H1.2Z" fill="#d8f2d0" opacity="0.9"/></svg>
<div class="c1" style="left:703.5px;top:580.9px">10/A</div>
<div class="c1" style="left:737.5px;top:580.9px">KİMYA</div>
<svg class="plus" style="left:702.3px;top:604.2px" viewBox="0 0 13 13"><path d="M4.5 0.5H8.5V4.5H12.5V8.5H8.5V12.5H4.5V8.5H0.5V4.5H4.5Z" fill="url(#pg)"/><path d="M5.3 1.2H7.7V5H5.3Z" fill="url(#ph)"/><path d="M1.2 5.3H11.8V6.1H1.2Z" fill="#d8f2d0" opacity="0.9"/></svg>
<div class="c1" style="left:1143.7px;top:581.9px">10/A</div>
<div class="c1" style="left:1177.7px;top:581.9px">KİMYA</div>
<svg class="plus" style="left:1142.5px;top:605.2px" viewBox="0 0 13 13"><path d="M4.5 0.5H8.5V4.5H12.5V8.5H8.5V12.5H4.5V8.5H0.5V4.5H4.5Z" fill="url(#pg)"/><path d="M5.3 1.2H7.7V5H5.3Z" fill="url(#ph)"/><path d="M1.2 5.3H11.8V6.1H1.2Z" fill="#d8f2d0" opacity="0.9"/></svg>
<div class="c1" style="left:1583.8px;top:580.9px">10/A</div>
<div class="c1" style="left:1617.8px;top:580.9px">KİMYA</div>
<svg class="plus" style="left:1582.6px;top:604.2px" viewBox="0 0 13 13"><path d="M4.5 0.5H8.5V4.5H12.5V8.5H8.5V12.5H4.5V8.5H0.5V4.5H4.5Z" fill="url(#pg)"/><path d="M5.3 1.2H7.7V5H5.3Z" fill="url(#ph)"/><path d="M1.2 5.3H11.8V6.1H1.2Z" fill="#d8f2d0" opacity="0.9"/></svg>
<div class="num" style="left:221.6px;top:632.6px">8</div>
<div class="c1" style="left:265.5px;top:638.9px">10/A</div>
<div class="c1" style="left:299.5px;top:638.9px">KİMYA</div>
<div class="c1" style="left:265.5px;top:666.6px">10/A</div>
<div class="c1" style="left:299.5px;top:666.6px">KİMYA</div>
<svg class="plus" style="left:264.3px;top:689.9px" viewBox="0 0 13 13"><path d="M4.5 0.5H8.5V4.5H12.5V8.5H8.5V12.5H4.5V8.5H0.5V4.5H4.5Z" fill="url(#pg)"/><path d="M5.3 1.2H7.7V5H5.3Z" fill="url(#ph)"/><path d="M1.2 5.3H11.8V6.1H1.2Z" fill="#d8f2d0" opacity="0.9"/></svg>
<div class="c1" style="left:703.5px;top:638.9px">10/A</div>
<div class="c1" style="left:737.5px;top:638.9px">KİMYA</div>
<div class="c1" style="left:703.5px;top:666.6px">10/A</div>
<div class="c1" style="left:737.5px;top:666.6px">KİMYA</div>
<svg class="plus" style="left:702.3px;top:689.9px" viewBox="0 0 13 13"><path d="M4.5 0.5H8.5V4.5H12.5V8.5H8.5V12.5H4.5V8.5H0.5V4.5H4.5Z" fill="url(#pg)"/><path d="M5.3 1.2H7.7V5H5.3Z" fill="url(#ph)"/><path d="M1.2 5.3H11.8V6.1H1.2Z" fill="#d8f2d0" opacity="0.9"/></svg>
<div class="c1" style="left:1143.7px;top:639.9px">10/A</div>
<div class="c1" style="left:1177.7px;top:639.9px">KİMYA</div>
<div class="c1" style="left:1143.7px;top:667.6px">10/A</div>
<div class="c1" style="left:1177.7px;top:667.6px">KİMYA</div>
<svg class="plus" style="left:1142.5px;top:690.9px" viewBox="0 0 13 13"><path d="M4.5 0.5H8.5V4.5H12.5V8.5H8.5V12.5H4.5V8.5H0.5V4.5H4.5Z" fill="url(#pg)"/><path d="M5.3 1.2H7.7V5H5.3Z" fill="url(#ph)"/><path d="M1.2 5.3H11.8V6.1H1.2Z" fill="#d8f2d0" opacity="0.9"/></svg>
<div class="c1" style="left:1583.8px;top:638.9px">10/A</div>
<div class="c1" style="left:1617.8px;top:638.9px">KİMYA</div>
<div class="c1" style="left:1583.8px;top:666.6px">10/A</div>
<div class="c1" style="left:1617.8px;top:666.6px">KİMYA</div>
<svg class="plus" style="left:1582.6px;top:689.9px" viewBox="0 0 13 13"><path d="M4.5 0.5H8.5V4.5H12.5V8.5H8.5V12.5H4.5V8.5H0.5V4.5H4.5Z" fill="url(#pg)"/><path d="M5.3 1.2H7.7V5H5.3Z" fill="url(#ph)"/><path d="M1.2 5.3H11.8V6.1H1.2Z" fill="#d8f2d0" opacity="0.9"/></svg>
<div class="a" style="left:1592px;top:160px;width:8px;height:553px;background:#fff"></div>
<div class="hl" style="left:1131.2px;top:169.3px;width:2.8px;height:543.3px"></div>
<div class="hl" style="left:1571.5px;top:169.3px;width:2.8px;height:543.3px"></div>
<div class="hl" style="left:1131.2px;top:169.3px;width:443.1px;height:2.8px"></div>
<div class="hl" style="left:1131.2px;top:193.5px;width:443.1px;height:2.8px"></div>
<div class="hl" style="left:1131.2px;top:218.2px;width:443.1px;height:2.8px"></div>
<div class="hl" style="left:1131.2px;top:276.6px;width:443.1px;height:2.8px"></div>
<div class="hl" style="left:1131.2px;top:335.0px;width:443.1px;height:2.8px"></div>
<div class="hl" style="left:1131.2px;top:393.0px;width:443.1px;height:2.8px"></div>
<div class="hl" style="left:1131.2px;top:451.1px;width:443.1px;height:2.8px"></div>
<div class="hl" style="left:1131.2px;top:509.5px;width:443.1px;height:2.8px"></div>
<div class="hl" style="left:1131.2px;top:568.0px;width:443.1px;height:2.8px"></div>
<div class="hl" style="left:1131.2px;top:626.0px;width:443.1px;height:2.8px"></div>
<div class="hl" style="left:1131.2px;top:710.7px;width:443.1px;height:1.9px"></div>
<div class="a" style="left:211px;top:712.6px;width:1381px;height:40px;background:#fff"></div>
<div class="a" style="left:213px;top:718px;width:1387px;height:17px;background:#f8f8f8;border-radius:4px 0 0 0"></div>
<div class="a" style="left:211px;top:735px;width:1389px;height:17px;background:#f9f9f9;border-top:1px solid #e0e0e0"></div>
<div class="a" style="left:1592px;top:66px;width:8px;height:647px;background:#fff"></div>
<svg class="a" style="left:1594.5px;top:75px" width="6" height="6" viewBox="0 0 6 6"><path d="M0 5.5 L5.5 0 L6 0 V5.5Z" fill="#8c8c8c"/></svg>
<div class="a" style="left:1595px;top:86px;width:6px;height:455px;background:#8c8c8c;border-radius:3px 0 0 3px"></div>
<svg class="a" style="left:1594.5px;top:704px" width="6" height="6" viewBox="0 0 6 6"><path d="M0 0.5 L5.5 6 L6 6 V0.5Z" fill="#8c8c8c"/></svg>
<div class="t" style="left:1299.5px;top:690.5px;font-size:16.6px;color:rgba(150,150,150,0.55)">Windows&#39;u Etkinleştir</div>
<div class="t" style="left:1300px;top:711px;font-size:12.65px;color:rgba(150,150,150,0.55)">Windows&#39;u etkinleştirmek için Ayarlar&#39;a gidin.</div>
</body></html>
